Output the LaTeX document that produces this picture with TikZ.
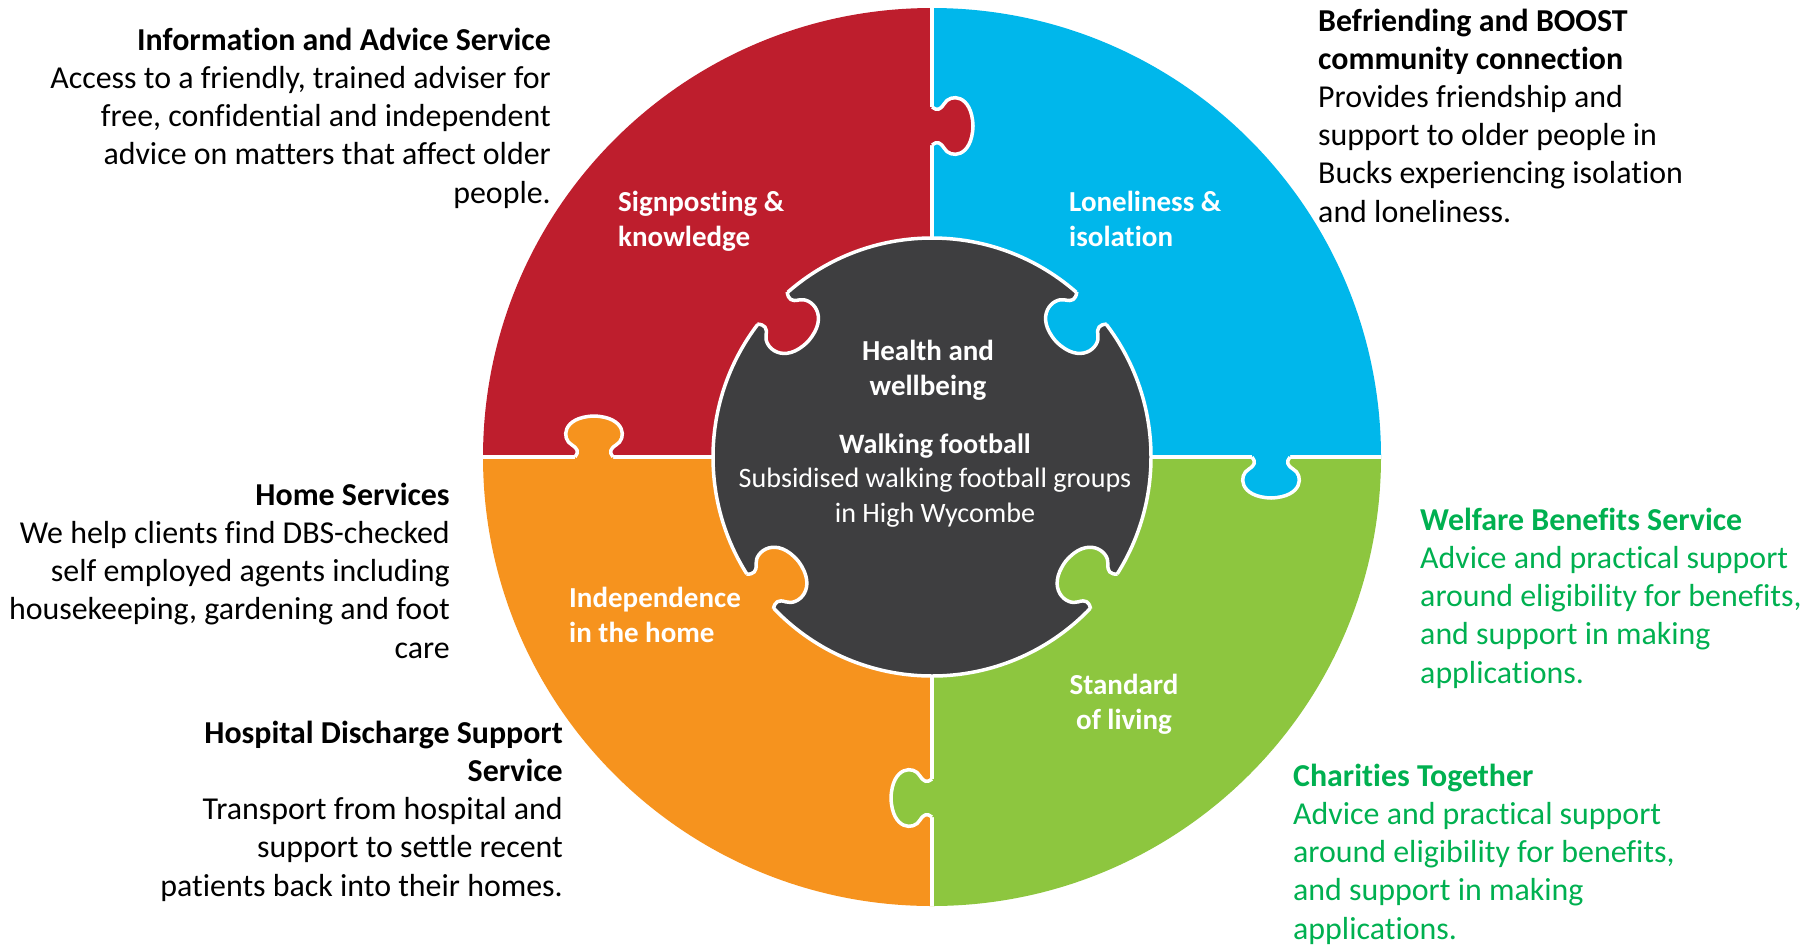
\documentclass[tikz,border=0pt]{standalone}
\usepackage{fontspec}
\setmainfont[Ligatures={NoCommon}]{Carlito}
\definecolor{pzred}{RGB}{190,30,45}
\definecolor{pzblue}{RGB}{0,183,235}
\definecolor{pzgreen}{RGB}{141,198,63}
\definecolor{pzorange}{RGB}{246,147,30}
\definecolor{pzdark}{RGB}{62,62,64}
\definecolor{txtgreen}{RGB}{0,176,80}
\tikzset{
  body/.style={inner sep=0pt, font=\fontsize{31.9}{38.2}\selectfont},
  bodyR/.style={body, align=right, anchor=base east},
  bodyL/.style={body, align=left, anchor=base west},
  lbl/.style={inner sep=0pt, text=white, font=\fontsize{29}{35}\selectfont\bfseries},
  inner/.style={inner sep=0pt, text=white, font=\fontsize{28.1}{34.5}\selectfont, align=center, anchor=base},
  seam/.style={white, line width=3.5pt, line join=round},
}
% outer tab: #1 base point, #2 screen angle of protrusion, #3 colour
\newcommand\outertab[3]{%
  \begin{scope}[shift={#1}, rotate={-(#2)}, x=1pt, y=1pt]
    \fill[#3] (-3,-19) -- (0,-19) .. controls (5,-15) and (8,-16) .. (12,-22)
      .. controls (18,-33) and (40,-32) .. (41,0)
      .. controls (40,32) and (18,33) .. (12,22)
      .. controls (8,16) and (5,15) .. (0,19) -- (-3,19) -- cycle;
    \draw[seam] (0,-19) .. controls (5,-15) and (8,-16) .. (12,-22)
      .. controls (18,-33) and (40,-32) .. (41,0)
      .. controls (40,32) and (18,33) .. (12,22)
      .. controls (8,16) and (5,15) .. (0,19);
  \end{scope}}
% inner knob: #1 screen angle of position on the dark circle, #2 colour
\newcommand\innerknob[2]{%
  \begin{scope}[shift={(932,457)}, shift={(#1:218.5)}, rotate={-(#1+180)}, x=1pt, y=1pt]
    \fill[#2] (-5,-22) -- (0,-22) .. controls (6,-17) and (10,-18) .. (14,-24)
      .. controls (21,-35) and (48,-34) .. (49,0)
      .. controls (48,34) and (21,35) .. (14,24)
      .. controls (10,18) and (6,17) .. (0,22) -- (-5,22) -- cycle;
    \draw[seam] (0,-22) .. controls (6,-17) and (10,-18) .. (14,-24)
      .. controls (21,-35) and (48,-34) .. (49,0)
      .. controls (48,34) and (21,35) .. (14,24)
      .. controls (10,18) and (6,17) .. (0,22);
  \end{scope}}
\begin{document}
\begin{tikzpicture}[x=1pt, y=-1pt]
\useasboundingbox (0,0) rectangle (1819,946);
\coordinate (C) at (932,457);
% quadrant pieces
\fill[pzred]    (C) -- ++(180:449) arc[start angle=180, end angle=270, radius=449] -- cycle;
\fill[pzblue]   (C) -- ++(270:449) arc[start angle=270, end angle=360, radius=449] -- cycle;
\fill[pzgreen]  (C) -- ++(0:449)   arc[start angle=0,   end angle=90,  radius=449] -- cycle;
\fill[pzorange] (C) -- ++(90:449)  arc[start angle=90,  end angle=180, radius=449] -- cycle;
% seams between pieces
\coordinate (sT) at (932,8);
\coordinate (sB) at (932,906);
\coordinate (sL) at (483,457);
\coordinate (sR) at (1381,457);
\draw[seam] (sT) -- (sB);
\draw[seam] (sL) -- (sR);
% outer tabs
\outertab{(932,126)}{0}{pzred}
\outertab{(1271,457)}{90}{pzblue}
\outertab{(932,798)}{180}{pzgreen}
\outertab{(594,457)}{270}{pzorange}
% centre piece
\fill[pzdark] (C) circle[radius=219];
\draw[seam] (C) circle[radius=219];
\innerknob{-137}{pzred}
\innerknob{-43}{pzblue}
\innerknob{38}{pzgreen}
\innerknob{142}{pzorange}
% piece labels (anchor = baseline of the last line)
\node[lbl, align=left, anchor=base west] (sign) at (618,246.5) {Signposting \&\\knowledge};
\node[lbl, align=left, anchor=base west] (lone) at (1069,246.5) {Loneliness \&\\isolation};
\node[lbl, align=center, anchor=base] (health) at (928,395) {Health and\\wellbeing};
\node[lbl, align=left, anchor=base west] (indep) at (569,642) {Independence\\in the home};
\node[lbl, align=center, anchor=base] (stand) at (1124,729) {Standard\\of living};
\node[inner] (walk) at (935,522) {\textbf{Walking football}\\Subsidised walking football groups\\in High Wycombe};
% service descriptions
\node[bodyR] (info) at (551,203) {\textbf{Information and Advice Service}\\Access to a friendly, trained adviser for\\free, confidential and independent\\advice on matters that affect older\\people.};
\node[bodyL] (befr) at (1318,222) {\textbf{Befriending and BOOST}\\\textbf{community connection}\\Provides friendship and\\support to older people in\\Bucks experiencing isolation\\and loneliness.};
\node[bodyR] (home) at (450,658) {\textbf{Home Services}\\We help clients find DBS-checked\\self employed agents including\\housekeeping, gardening and foot\\care};
\node[bodyR] (hosp) at (563,896) {\textbf{Hospital Discharge Support}\\\textbf{Service}\\Transport from hospital and\\support to settle recent\\patients back into their homes.};
\node[bodyL, text=txtgreen] (welf) at (1420,683) {\textbf{Welfare Benefits Service}\\Advice and practical support\\around eligibility for benefits,\\and support in making\\applications.};
\node[bodyL, text=txtgreen] (char) at (1293,939) {\textbf{Charities Together}\\Advice and practical support\\around eligibility for benefits,\\and support in making\\applications.};
\end{tikzpicture}
\end{document}
